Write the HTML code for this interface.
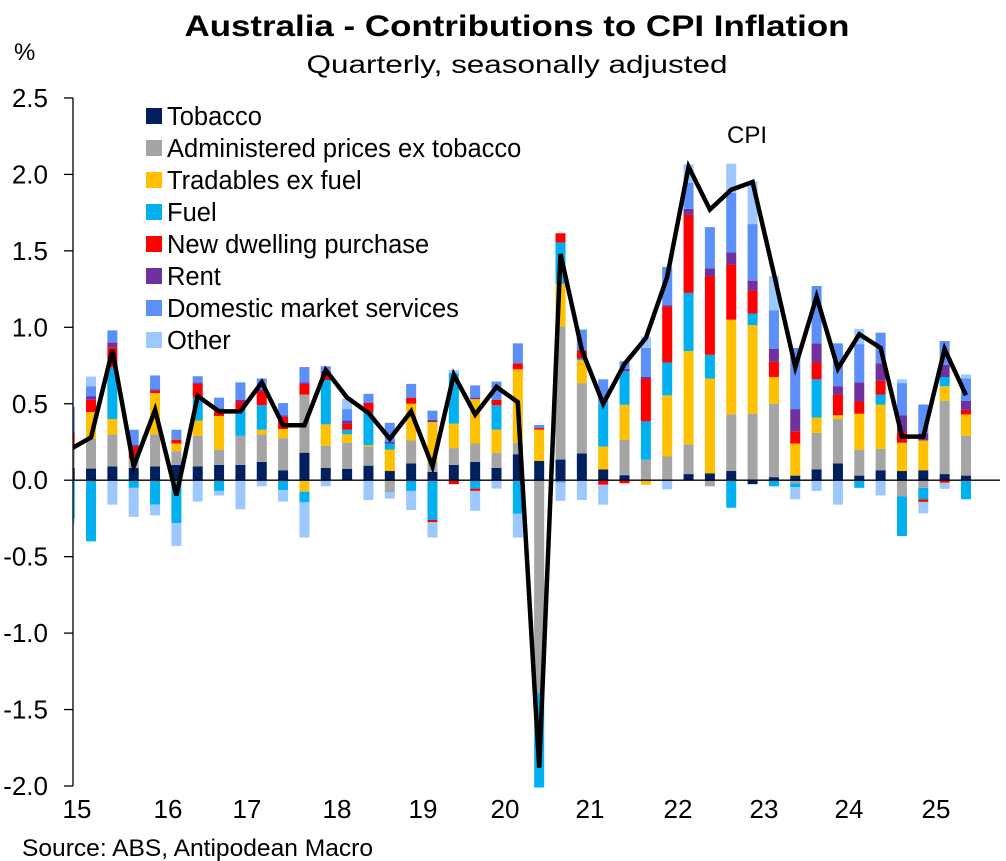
<!DOCTYPE html>
<html><head><meta charset="utf-8"><style>
body{margin:0;background:#fff;}
svg{display:block;font-family:"Liberation Sans",Arial,sans-serif;}
</style></head><body>
<svg id="chart" width="1006" height="861" viewBox="0 0 1006 861" xmlns="http://www.w3.org/2000/svg">
<rect width="1006" height="861" fill="#fff"/>
<text x="517" y="36" text-anchor="middle" font-size="30" font-weight="bold" textLength="665" lengthAdjust="spacingAndGlyphs">Australia - Contributions to CPI Inflation</text>
<text x="517" y="73" text-anchor="middle" font-size="25" textLength="421" lengthAdjust="spacingAndGlyphs">Quarterly, seasonally adjusted</text>
<text x="14" y="60" font-size="24">%</text>
<text x="22" y="856" font-size="24.5" textLength="351" lengthAdjust="spacingAndGlyphs">Source: ABS, Antipodean Macro</text>
<text x="727" y="143" font-size="24">CPI</text>
<defs><clipPath id="plotclip"><rect x="73" y="90" width="933" height="710"/></clipPath></defs>
<g id="bars" clip-path="url(#plotclip)"></g>
<g id="axes"></g>
<g id="legend"></g>
</svg>
<script>
const ns="http://www.w3.org/2000/svg";
const yearLabels=["15","16","17","18","19","20","21","22","23","24","25"];
const yearLabelPos=[77,168,247,337,423,505,590,678,764,849,936];
const yTicks=[-2.0,-1.5,-1.0,-0.5,0.0,0.5,1.0,1.5,2.0,2.5];
const seriesNames=["Tobacco","Administered prices ex tobacco","Tradables ex fuel","Fuel","New dwelling purchase","Rent","Domestic market services","Other"];
const seriesColors=["#002060","#A5A5A5","#FFC000","#00B0F0","#FF0000","#7030A0","#5B8FF9","#9DC8FF"];
const tobacco=[.08,.076,.09,.08,.09,.1,.09,.1,.1,.12,.065,.18,.08,.075,.095,.06,.11,.055,.1,.12,.08,.17,.126,.135,.175,.07,.033,0,0,.04,.045,.06,-.026,.02,.03,.07,.11,.03,.065,.06,.065,.04,.03];
const administered=[.12,.196,.21,.06,.21,.09,.2,.1,.19,.18,.21,.38,.145,.17,.125,-.08,.15,.065,.11,.12,.1,.075,-1.39,.87,.46,0,.23,.135,.155,.195,-.04,.37,.435,.48,-.02,.24,.29,.17,.14,-.105,-.05,.48,.26];
const tradables=[0,.174,.1,0,.27,.05,.1,.22,0,.03,.06,-.075,.14,.055,.01,.14,.24,.26,.16,.29,.15,.48,.205,.28,.15,.15,.23,-.03,.4,.61,.62,.62,.58,.175,.21,.1,.025,.235,.29,.185,.195,.095,.14];
const fuel=[-.25,-.4,.34,-.05,-.16,-.28,.15,-.07,.17,.16,-.065,-.07,.29,.03,.21,.04,-.07,-.26,.33,-.055,.16,-.22,-.62,.27,.01,.28,.22,.25,.215,.38,.155,-.18,.075,-.04,-.025,.25,0,-.05,.065,-.26,-.075,.06,-.125];
const dwelling=[.1,.08,.13,.08,.015,.025,.09,.04,.055,.09,.08,.07,.04,.04,.065,0,.04,-.015,-.026,-.015,.035,.04,.01,.06,.055,-.03,-.02,.28,.365,.51,.515,.36,.15,.1,.08,.11,.135,.08,.09,.07,-.017,-.017,.03];
const rent=[.02,.024,.03,.01,.01,0,.01,.01,.01,.015,.01,.01,.02,.02,0,.01,0,.015,0,.01,0,0,0,0,0,0,.015,.01,.01,.04,.05,.08,.065,.085,.145,.125,.055,.125,.115,.11,.045,.08,.06];
const domestic=[.16,.063,.08,.1,.09,.065,.04,.07,.115,.07,.08,.1,.03,.075,.06,.125,.09,.06,0,.08,.12,.13,.02,-.015,.135,.16,.05,.19,.25,.17,.27,.39,.37,.25,.4,.375,.28,.25,.2,.21,.19,.155,.146];
const other=[-.04,.065,-.16,-.19,-.07,-.15,-.14,-.03,-.19,-.04,-.075,-.23,-.04,.07,-.13,-.04,-.125,-.1,.02,-.13,-.055,-.155,0,-.12,-.13,-.13,0,.075,-.06,.12,0,.19,.28,.225,-.08,-.07,-.16,.1,-.1,.025,-.075,-.04,.026];
const cpi=[.2,.28,.85,.09,.46,-.1,.55,.45,.45,.64,.36,.36,.72,.54,.44,.27,.45,.09,.69,.43,.61,.51,-1.88,1.48,.85,.5,.76,.93,1.33,2.05,1.77,1.9,1.95,1.35,.74,1.2,.73,.955,.865,.285,.285,.857,.556];
const series=[tobacco,administered,tradables,fuel,dwelling,rent,domestic,other];
const seriesKeys=["tobacco","administered","tradables","fuel","dwelling","rent","domestic","other"];

function xPos(i){return 69.7+i*21.34;}
function yPos(v){return 480.2-v*152.9;}
const barW=10;
const gB=document.getElementById('bars'),gA=document.getElementById('axes'),gL=document.getElementById('legend');
function mk(tag,attrs,parent){const e=document.createElementNS(ns,tag);for(const k in attrs)e.setAttribute(k,attrs[k]);parent.appendChild(e);return e;}

for(let i=0;i<cpi.length;i++){
  let pos=0,neg=0;
  for(let s=0;s<series.length;s++){
    const v=series[s][i]; if(!v) continue;
    let y0,y1;
    if(v>0){y0=pos;y1=pos+v;pos=y1;}else{y0=neg;y1=neg+v;neg=y1;}
    const r=mk('rect',{x:xPos(i)-barW/2,y:Math.min(yPos(y0),yPos(y1)),width:barW,height:Math.abs(yPos(y1)-yPos(y0)),fill:seriesColors[s]},gB);
    
    
  }
}
const zl=mk('line',{x1:73,x2:1000,y1:yPos(0),y2:yPos(0),stroke:'#000','stroke-width':1.3},gB);


let d='';
for(let i=0;i<cpi.length;i++){d+=(i?'L':'M')+xPos(i).toFixed(1)+','+yPos(cpi[i]).toFixed(1);}
const ln=mk('path',{d:d,fill:'none',stroke:'#000','stroke-width':4.5,'stroke-linejoin':'miter','stroke-miterlimit':4},gB);



const ax=mk('line',{x1:73,x2:73,y1:yPos(2.5),y2:yPos(-2.0),stroke:'#000','stroke-width':1.3},gA);


yTicks.forEach(t=>{
  const tk=mk('line',{x1:64,x2:73,y1:yPos(t),y2:yPos(t),stroke:'#000','stroke-width':1.3},gA);
  
  
  const tx=mk('text',{x:48,y:yPos(t)+9,'text-anchor':'end','font-size':26},gA);
  tx.textContent=t.toFixed(1);
  
  
});
yearLabels.forEach((l,k)=>{
  const tx=mk('text',{x:yearLabelPos[k],y:818,'text-anchor':'middle','font-size':26},gA);
  tx.textContent=l;
  
  
});
seriesNames.forEach((n,s)=>{
  const yy=116+s*32;
  const g=mk('g',{},gL);
  
  
  mk('rect',{x:146,y:yy-8,width:16,height:16,fill:seriesColors[s]},g);
  const tx=mk('text',{x:167,y:yy+9,'font-size':25.5},g);
  tx.textContent=n;
});
</script>
</body></html>
